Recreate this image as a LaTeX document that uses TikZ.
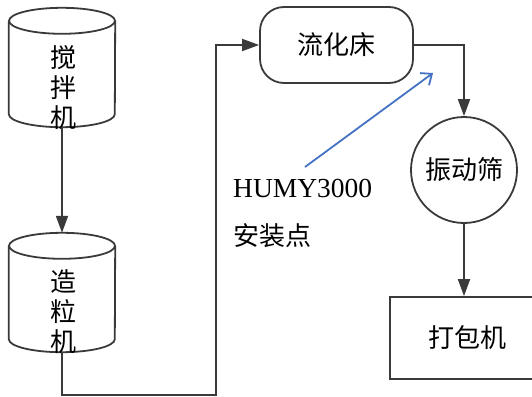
\documentclass[tikz,border=0pt]{standalone}
\usepackage{fontspec}
\setmainfont{Liberation Serif}
\newfontfamily\cjk{Noto Sans CJK SC}
\usetikzlibrary{arrows.meta,calc}
\definecolor{ln}{HTML}{3A3A3A}
\definecolor{bl}{HTML}{4472C4}
\tikzset{
  cylbox/.style={minimum width=106pt,minimum height=119pt,inner sep=0pt},
  cyltext/.style={inner sep=0pt,align=center,font=\cjk\fontsize{26}{28.5}\selectfont},
  shp/.style={draw=ln,line width=1.8pt},
  conn/.style={draw=ln,line width=1.8pt,-{Triangle[length=17pt,width=12pt]}},
  lbl/.style={font=\cjk\fontsize{26}{30}\selectfont,inner sep=0pt}
}
\begin{document}
\begin{tikzpicture}[x=1pt,y=-1pt]
\useasboundingbox (0,0) rectangle (532,396);
\clip (0,0) rectangle (532,396);
% cylinders
\node[cylbox] (mix) at (62,67.5) {};
\node[cylbox] (gran) at (62,292.5) {};
\foreach \c in {mix,gran}{
  \draw[shp] ($(\c.north west)+(0,13)$) -- ($(\c.south west)+(0,-13)$)
     arc[start angle=180,end angle=360,x radius=53pt,y radius=13pt]
     -- ($(\c.north east)+(0,13)$);
  \draw[shp] ($(\c.north)+(0,13)$) ellipse[x radius=53pt,y radius=13pt];
}
\node[cyltext] (mixt) at ($(mix)+(1,20)$) {搅\\[1.5pt]拌\\[1.5pt]机};
\node[cyltext] (grant) at ($(gran)+(1,19)$) {造\\[1.5pt]粒\\[1.5pt]机};
% other nodes
\node[shp,rounded corners=24pt,minimum width=153pt,minimum height=76pt,lbl] (fb) at (336.5,45) {流化床};
\node[shp,circle,minimum size=106pt,lbl] (sieve) at (464,170) {振动筛};
\node[shp,minimum width=154pt,minimum height=82pt,lbl] (pack) at (467,338) {打包机};
\node[anchor=base west,inner sep=0pt,font=\fontsize{27.5}{30}\selectfont] (hm) at (233,197) {HUMY3000};
\node[lbl,anchor=west] (az) at (233,236) {安装点};
% connectors
\coordinate (c1) at (216,395);
\draw[conn] (mix.south) -- (gran.north);
\draw[conn] (gran.south) |- (c1) |- (fb.west);
\draw[conn] (fb.east) -| (sieve.north);
\draw[conn] (sieve.south) -- (sieve.south |- pack.north);
\coordinate (b1) at (305,167);
\coordinate (b2) at (433,73);
\draw[bl,line width=1.8pt,-{Straight Barb[length=9pt,width=15pt]}] (b1) -- (b2);
\end{tikzpicture}
\end{document}
